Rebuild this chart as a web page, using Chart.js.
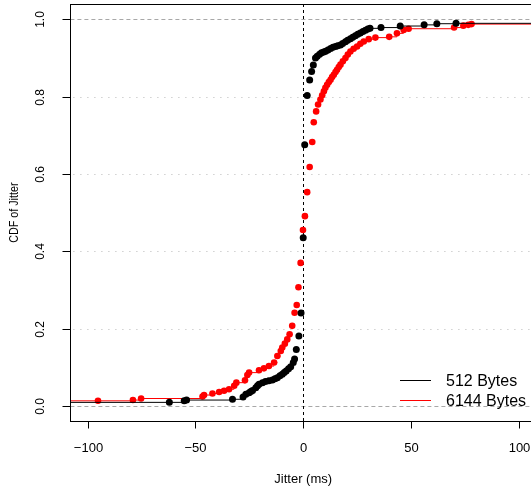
<!DOCTYPE html>
<html>
<head>
<meta charset="utf-8">
<script src="https://cdn.jsdelivr.net/npm/chart.js@4/dist/chart.umd.min.js"></script>
<style>
  html, body { margin: 0; padding: 0; background: #fff; overflow: hidden; }
  #wrap { width: 540px; height: 488px; }
</style>
</head>
<body>
<div id="wrap"><canvas id="cdf-chart" width="540" height="488"></canvas></div>
<script>
'use strict';

// DATA

// 512 Bytes
let smallX = [-62.1, -55.2, -54.1, -32.8, -27.9, -26.6, -25.1, -24.3, -23.5, -22.0, -21.2, -20.5, -18.9, -17.5, -15.9, -14.3,
  -13.1, -12.0, -10.8, -9.7, -8.8, -7.9, -6.8, -5.8, -4.6, -4.0, -3.2, -2.0, -1.0, 0.0, 0.7, 1.85,
  3.0, 3.9, 4.7, 5.7, 6.5, 7.6, 8.5, 9.5, 10.4, 11.5, 12.7, 13.8, 15.0, 16.0, 17.3, 18.3,
  19.6, 20.6, 21.9, 23.0, 24.2, 25.3, 26.5, 27.7, 28.9, 30.0, 31.0, 36.1, 45.0, 56.1, 62.0, 70.9];
let smallY = [0.009, 0.013, 0.015, 0.017, 0.023, 0.030, 0.034, 0.037, 0.040, 0.047, 0.052, 0.056, 0.060, 0.063, 0.065, 0.067,
  0.070, 0.073, 0.078, 0.082, 0.086, 0.090, 0.096, 0.101, 0.112, 0.121, 0.146, 0.181, 0.240, 0.435, 0.676, 0.803,
  0.843, 0.865, 0.882, 0.900, 0.905, 0.910, 0.914, 0.916, 0.918, 0.921, 0.925, 0.928, 0.930, 0.932, 0.934, 0.938,
  0.942, 0.946, 0.950, 0.954, 0.958, 0.962, 0.965, 0.969, 0.972, 0.975, 0.977, 0.979, 0.983, 0.986, 0.989, 0.990];

// 6144 Bytes
let bigX = [-95.2, -79.0, -75.2, -46.7, -46.0, -42.1, -39.0, -36.7, -34.4, -32.0, -31.0, -27.0, -25.9, -25.1, -20.5, -18.2,
  -15.9, -13.5, -12.0, -10.4, -9.7, -8.5, -7.4, -6.3, -5.1, -4.0, -3.0, -2.2, -1.2, -0.1, 0.8, 1.85,
  3.0, 4.2, 4.9, 6.0, 6.9, 8.0, 8.8, 9.6, 10.3, 11.1, 11.9, 12.7, 13.4, 14.2, 15.0, 15.7,
  16.5, 17.3, 18.4, 19.6, 20.7, 21.9, 23.4, 25.0, 26.5, 28.1, 30.4, 33.5, 39.9, 43.5, 46.6, 48.9,
  70.0, 74.3, 76.6, 78.1];
let bigY = [0.013, 0.015, 0.019, 0.024, 0.028, 0.032, 0.036, 0.039, 0.043, 0.052, 0.060, 0.066, 0.080, 0.086, 0.092, 0.097,
  0.103, 0.112, 0.129, 0.142, 0.151, 0.161, 0.172, 0.185, 0.207, 0.241, 0.261, 0.307, 0.370, 0.455, 0.491, 0.553,
  0.618, 0.683, 0.734, 0.762, 0.780, 0.793, 0.804, 0.814, 0.823, 0.831, 0.838, 0.844, 0.851, 0.857, 0.864, 0.870,
  0.877, 0.883, 0.892, 0.900, 0.909, 0.917, 0.924, 0.930, 0.937, 0.943, 0.949, 0.953, 0.955, 0.964, 0.973, 0.976,
  0.979, 0.984, 0.986, 0.988];

let seriesNames = ['512 Bytes', '6144 Bytes'];
let seriesColors = ['#000000', '#ff0000'];

let xTicks = [-100, -50, 0, 50, 100];
let yTicks = [0, 0.2, 0.4, 0.6, 0.8, 1.0];
let xMin = -108;
let xMax = 108;
let yMin = -0.04;
let yMax = 1.04;

// HELPERS

// horizontal ecdf steps only, no verticals (gap after every step)
function stepSegments(xs, ys) {
  let pts = [{ x: xMin, y: ys[0] }];
  for (let i = 0; i < xs.length; i++) {
    let nextX = i < xs.length - 1 ? xs[i + 1] : xMax;
    if (i > 0) {
      pts.push({ x: xs[i], y: ys[i] });
    }
    pts.push({ x: nextX, y: ys[i] });
    if (i < xs.length - 1) {
      pts.push({ x: nextX, y: null });
    }
  }
  return pts;
}

function toPoints(xs, ys) {
  return xs.map((x, i) => ({ x: x, y: ys[i] }));
}

function fmtTick(v) {
  return String(v).replace('-', '\u2212');
}

// R-STYLE AXES, GRID AND LEGEND

let rAxes = {
  id: 'rAxes',
  beforeDatasetsDraw(chart) {
    let c = chart.ctx;
    let xs = chart.scales.x;
    let ys = chart.scales.y;
    let a = chart.chartArea;
    c.save();
    c.lineWidth = 1;
    // dotted grid
    c.strokeStyle = '#b8b8b8';
    c.setLineDash([1, 6]);
    [0.2, 0.4, 0.6, 0.8].forEach(v => {
      let py = Math.round(ys.getPixelForValue(v)) + 0.5;
      c.beginPath();
      c.moveTo(a.left + 3, py);
      c.lineTo(a.right, py);
      c.stroke();
    });
    // dashed at 0 and 1
    c.strokeStyle = '#a8a8a8';
    c.setLineDash([4, 3]);
    [0, 1].forEach(v => {
      let py = Math.round(ys.getPixelForValue(v)) + 0.5;
      c.beginPath();
      c.moveTo(a.left, py);
      c.lineTo(a.right, py);
      c.stroke();
    });
    // vertical dashed at 0
    c.strokeStyle = '#000';
    c.setLineDash([3, 3]);
    let px0 = Math.round(xs.getPixelForValue(0)) + 0.5;
    c.beginPath();
    c.moveTo(px0, a.top);
    c.lineTo(px0, a.bottom);
    c.stroke();
    c.restore();
  },
  afterDraw(chart) {
    let c = chart.ctx;
    let xs = chart.scales.x;
    let ys = chart.scales.y;
    let a = chart.chartArea;
    c.save();
    c.strokeStyle = '#000';
    c.fillStyle = '#000';
    c.lineWidth = 1;
    c.setLineDash([]);
    // box
    c.strokeRect(Math.round(a.left) + 0.5, Math.round(a.top) + 0.5, a.right - a.left, Math.round(a.bottom - a.top));
    // x ticks and labels
    let bottom = Math.round(a.bottom) + 0.5;
    c.font = '13px "Liberation Sans", Arial, sans-serif';
    c.textAlign = 'center';
    c.textBaseline = 'middle';
    xTicks.forEach(v => {
      let px = Math.round(xs.getPixelForValue(v)) + 0.5;
      c.beginPath();
      c.moveTo(px, bottom);
      c.lineTo(px, bottom + 7);
      c.stroke();
      c.fillText(fmtTick(v), px, 448);
    });
    // y ticks and rotated labels
    let left = Math.round(a.left) + 0.5;
    c.font = '12px "Liberation Sans", Arial, sans-serif';
    yTicks.forEach(v => {
      let py = Math.round(ys.getPixelForValue(v)) + 0.5;
      c.beginPath();
      c.moveTo(left, py);
      c.lineTo(left - 8, py);
      c.stroke();
      c.save();
      c.translate(40.5, py);
      c.rotate(-Math.PI / 2);
      c.fillText(v.toFixed(1), 0, 0);
      c.restore();
    });
    // axis titles
    c.font = '13px "Liberation Sans", Arial, sans-serif';
    c.fillText('Jitter (ms)', (a.left + a.right) / 2, 479);
    c.save();
    c.translate(14.5, (a.top + a.bottom) / 2);
    c.rotate(-Math.PI / 2);
    c.scale(0.86, 1);
    c.font = '12.5px "Liberation Sans", Arial, sans-serif';
    c.fillText('CDF of Jitter', 0, 0);
    c.restore();
    // legend, no box
    c.font = '16px "Liberation Sans", Arial, sans-serif';
    c.textAlign = 'left';
    let rows = [380.5, 400.5];
    seriesNames.forEach((name, i) => {
      c.strokeStyle = seriesColors[i];
      c.beginPath();
      c.moveTo(400, rows[i]);
      c.lineTo(431, rows[i]);
      c.stroke();
      c.fillText(name, 446, rows[i] + 1);
    });
    c.restore();
  }
};

// CHART

let ctx = document.getElementById('cdf-chart');

let chartObject = {
  type: 'scatter',
  data: {
    datasets: [
      {
        label: seriesNames[0],
        data: toPoints(smallX, smallY),
        backgroundColor: seriesColors[0],
        borderColor: seriesColors[0],
        pointRadius: 3.5,
        borderWidth: 0,
        order: 0
      },
      {
        label: seriesNames[0] + ' step',
        data: stepSegments(smallX, smallY),
        showLine: true,
        spanGaps: false,
        borderColor: seriesColors[0],
        borderWidth: 1,
        pointRadius: 0,
        order: 1
      },
      {
        label: seriesNames[1],
        data: toPoints(bigX, bigY),
        backgroundColor: seriesColors[1],
        borderColor: seriesColors[1],
        pointRadius: 3.3,
        borderWidth: 0,
        order: 2
      },
      {
        label: seriesNames[1] + ' step',
        data: stepSegments(bigX, bigY),
        showLine: true,
        spanGaps: false,
        borderColor: seriesColors[1],
        borderWidth: 1,
        pointRadius: 0,
        order: 3
      }
    ]
  },
  options: {
    responsive: false,
    animation: false,
    layout: {
      padding: { left: 70.4, top: 3, right: 2.1, bottom: 66.7 }
    },
    plugins: {
      legend: { display: false },
      tooltip: { enabled: false }
    },
    scales: {
      x: { type: 'linear', min: xMin, max: xMax, display: false },
      y: { type: 'linear', min: yMin, max: yMax, display: false }
    }
  },
  plugins: [rAxes]
};

const cdfChart = new Chart(ctx, chartObject);
</script>
</body>
</html>
